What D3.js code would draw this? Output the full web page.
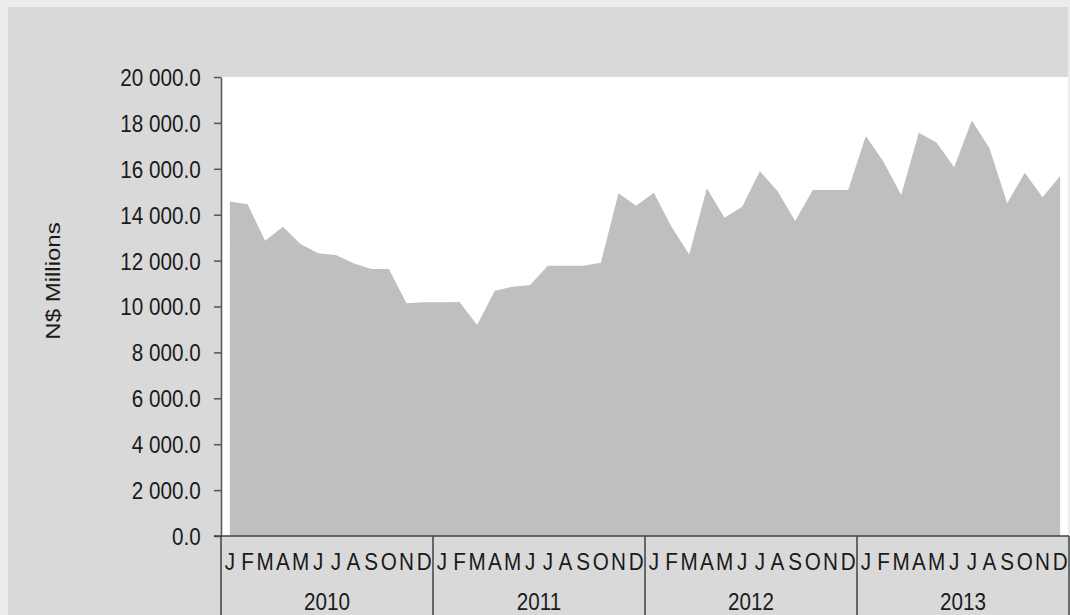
<!DOCTYPE html>
<html>
<head>
<meta charset="utf-8">
<script src="https://cdn.jsdelivr.net/npm/d3@7"></script>
<style>
  body { margin: 0; background: #ececec; }
  svg { display: block; font-family: "Liberation Sans", Arial, sans-serif; }
</style>
</head>
<body>
<div id="chart"></div>
<script>
const years = ["2010", "2011", "2012", "2013"];
const monthLetters = ["J", "F", "M", "A", "M", "J", "J", "A", "S", "O", "N", "D"];

// N$ millions, monthly
const values2010 = [14570, 14450, 12870, 13480, 12720, 12320, 12240, 11880, 11630, 11630, 10140, 10180];
const values2011 = [10180, 10200, 9190, 10690, 10860, 10940, 11780, 11780, 11780, 11910, 14930, 14390];
const values2012 = [14960, 13480, 12270, 15150, 13870, 14350, 15890, 15030, 13730, 15080, 15080, 15080];
const values2013 = [17430, 16310, 14860, 17570, 17150, 16070, 18100, 16890, 14500, 15830, 14760, 15690];

const yTicks = [0, 2000, 4000, 6000, 8000, 10000, 12000, 14000, 16000, 18000, 20000];

const seriesByYear = [values2010, values2011, values2012, values2013];
const data = [];
years.forEach((yr, i) => {
  seriesByYear[i].forEach((v, m) => {
    data.push({ key: yr + "-" + m, year: yr, month: m, value: v });
  });
});

const width = 1070;
const height = 615;
const plot = { left: 221, right: 1069, top: 77, bottom: 536 };
const squeeze = 0.88; // text in the source is horizontally compressed

const svg = d3.select("#chart").append("svg")
  .attr("width", width)
  .attr("height", height);

// panel background
svg.append("rect")
  .attr("x", 8).attr("y", 7)
  .attr("width", width - 10).attr("height", height - 7)
  .attr("fill", "#d9d9d9");

svg.append("rect")
  .attr("x", plot.left + 1).attr("y", plot.top)
  .attr("width", plot.right - plot.left - 2).attr("height", plot.bottom - plot.top)
  .attr("fill", "#ffffff");

const x = d3.scaleBand()
  .domain(data.map(d => d.key))
  .range([plot.left, plot.right])
  .padding(0);

const xYear = d3.scaleBand()
  .domain(years)
  .range([plot.left, plot.right])
  .padding(0);

const y = d3.scaleLinear()
  .domain([0, 20000])
  .range([plot.bottom, plot.top]);

const area = d3.area()
  .x(d => x(d.key) + x.bandwidth() / 2)
  .y0(y(0))
  .y1(d => y(d.value));

svg.append("path")
  .datum(data)
  .attr("d", area)
  .attr("fill", "#bfbfbf");

// y axis
const fmt = d3.format(",.1f");
const yAxis = svg.append("g")
  .attr("transform", `translate(${plot.left},0)`)
  .call(d3.axisLeft(y)
    .tickValues(yTicks)
    .tickSize(7)
    .tickPadding(16)
    .tickSizeOuter(0)
    .tickFormat(d => fmt(d).replace(/,/g, " ")));

yAxis.select(".domain").attr("stroke", "#555").attr("stroke-width", 1.5);
yAxis.selectAll(".tick line").attr("stroke", "#555").attr("stroke-width", 1.5);
yAxis.selectAll(".tick text")
  .attr("fill", "#1a1a1a")
  .attr("font-size", 23.5)
  .attr("dy", "0.36em")
  .attr("transform", `scale(${squeeze},1)`);

// y axis title
svg.append("text")
  .attr("transform", `translate(60,281) rotate(-90) scale(1,${squeeze})`)
  .attr("text-anchor", "middle")
  .attr("font-size", 24)
  .attr("fill", "#1a1a1a")
  .text("N$ Millions");

// x axis: month letters
const xAxis = svg.append("g")
  .attr("transform", `translate(0,${plot.bottom})`)
  .call(d3.axisBottom(x)
    .tickSize(0)
    .tickPadding(0)
    .tickFormat(k => monthLetters[+k.split("-")[1]]));

xAxis.select(".domain").remove();
xAxis.selectAll(".tick text")
  .attr("y", 34)
  .attr("dy", 0)
  .attr("font-size", 23.5)
  .attr("fill", "#1a1a1a")
  .attr("transform", `scale(${squeeze},1)`);

// year row
const yearAxis = svg.append("g")
  .attr("transform", `translate(0,${plot.bottom})`)
  .call(d3.axisBottom(xYear).tickSize(0).tickPadding(0));

yearAxis.select(".domain").remove();
yearAxis.selectAll(".tick text")
  .attr("y", 74)
  .attr("dy", 0)
  .attr("font-size", 23.5)
  .attr("fill", "#1a1a1a")
  .attr("transform", `scale(${squeeze},1)`);

// category box lines
const lineColor = "#404040";
svg.append("line")
  .attr("x1", plot.left - 7).attr("x2", plot.right)
  .attr("y1", plot.bottom).attr("y2", plot.bottom)
  .attr("stroke", lineColor).attr("stroke-width", 1.5);

const edges = years.map(yr => xYear(yr)).concat([xYear(years[years.length - 1]) + xYear.bandwidth()]);
svg.append("g")
  .selectAll("line")
  .data(edges)
  .join("line")
  .attr("x1", d => d).attr("x2", d => d)
  .attr("y1", plot.bottom).attr("y2", height)
  .attr("stroke", lineColor)
  .attr("stroke-width", 1.5);
</script>
</body>
</html>
